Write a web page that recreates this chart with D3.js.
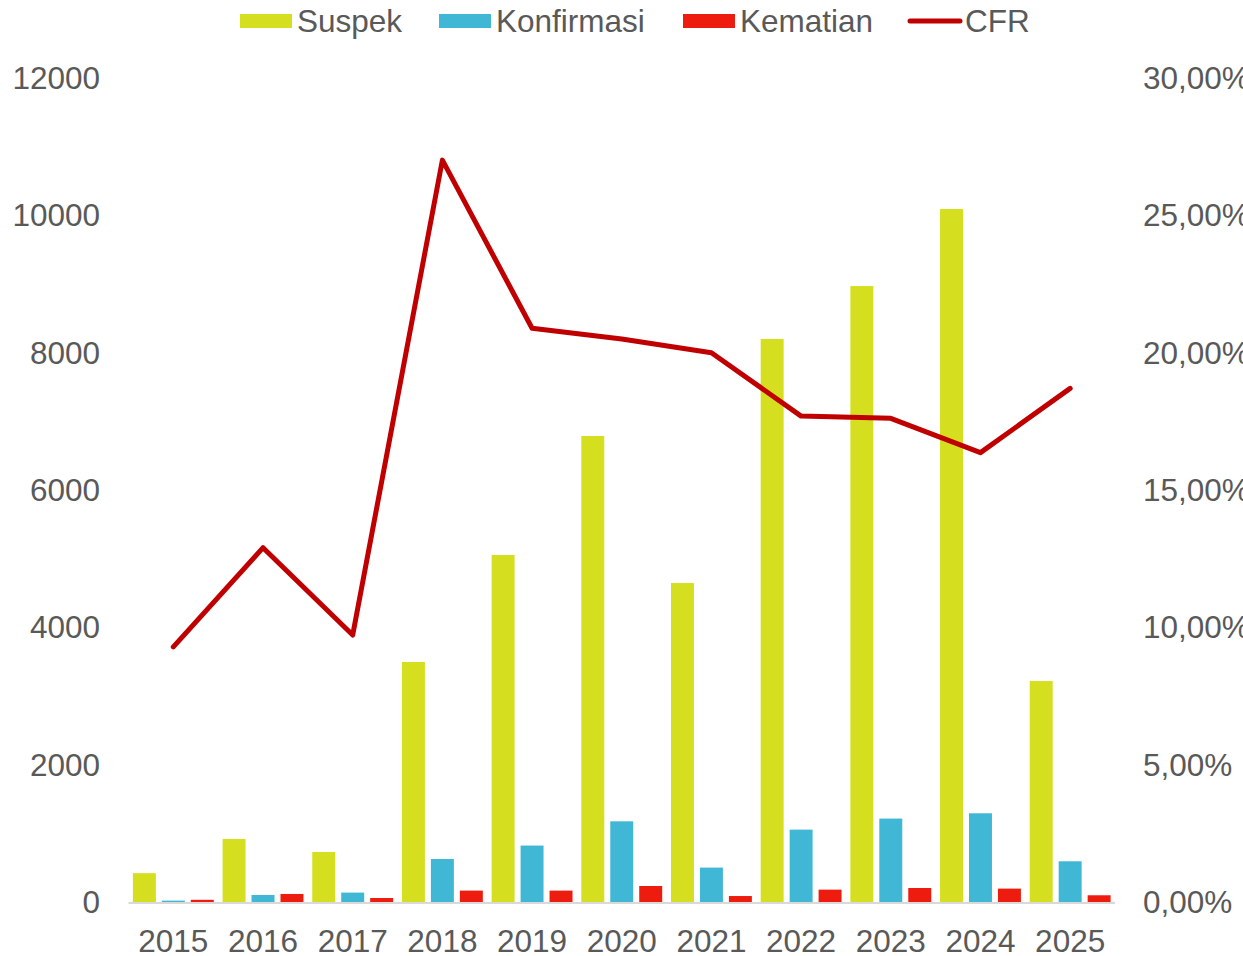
<!DOCTYPE html>
<html>
<head>
<meta charset="utf-8">
<script src="https://cdn.jsdelivr.net/npm/d3@7"></script>
<style>
  body { margin: 0; background: #fff; }
  text { font-family: "Liberation Sans", Arial, sans-serif; fill: #595959; }
</style>
</head>
<body>
<svg width="1243" height="956"></svg>
<script>
var years = ["2015","2016","2017","2018","2019","2020","2021","2022","2023","2024","2025"];
var suspek     = [420, 917, 728, 3495, 5053, 6786, 4645, 8199, 8970, 10092, 3218];
var konfirmasi = [20, 102, 137, 626, 822, 1175, 501, 1054, 1215, 1292, 593];
var kematian   = [32, 117, 58, 166, 166, 233, 87, 180, 204, 195, 98];
var cfr        = [9.29, 12.90, 9.72, 27.01, 20.89, 20.50, 20.00, 17.69, 17.61, 16.36, 18.70];

var leftTicks  = [0, 2000, 4000, 6000, 8000, 10000, 12000];
var rightTicks = [0, 5, 10, 15, 20, 25, 30];

var seriesNames  = ["Suspek", "Konfirmasi", "Kematian"];
var seriesColors = ["#d5df1f", "#41b7d6", "#ee1c0f"];
var cfrColor = "#c00000";

var svg = d3.select("svg"),
    width = +svg.attr("width"),
    height = +svg.attr("height");

// plot area edges (note: "top" is reserved on window, so use other names)
var plotLeft = 128.5, plotRight = 1115, plotTop = 78, plotBottom = 902;
var fontSize = "31.5px";

var x0 = d3.scaleBand().domain(years).range([plotLeft, plotRight]).padding(0);
var x1 = d3.scaleBand().domain(seriesNames)
    .range([4.4, x0.bandwidth() - 4.4])
    .paddingInner(0.207).paddingOuter(0);
var y = d3.scaleLinear().domain([0, 12000]).range([plotBottom, plotTop]);
var y2 = d3.scaleLinear().domain([0, 30]).range([plotBottom, plotTop]);

var rows = years.map(function(yr, i) {
    return { year: yr, values: [suspek[i], konfirmasi[i], kematian[i]] };
});

// bars
var groups = svg.append("g")
    .selectAll("g")
    .data(rows)
    .enter().append("g")
    .attr("transform", function(d) { return "translate(" + x0(d.year) + ",0)"; });

groups.selectAll("rect")
    .data(function(d) {
        return d.values.map(function(v, j) { return { key: seriesNames[j], value: v, color: seriesColors[j] }; });
    })
    .enter().append("rect")
    .attr("x", function(d) { return x1(d.key); })
    .attr("width", x1.bandwidth())
    .attr("y", function(d) { return y(d.value); })
    .attr("height", function(d) { return plotBottom - y(d.value); })
    .attr("fill", function(d) { return d.color; });

// baseline
svg.append("line")
    .attr("x1", plotLeft).attr("x2", plotRight)
    .attr("y1", plotBottom + 1).attr("y2", plotBottom + 1)
    .attr("stroke", "#d9d9d9").attr("stroke-width", 2);

// CFR line
var line = d3.line()
    .x(function(d, i) { return x0(years[i]) + x0.bandwidth() / 2; })
    .y(function(d) { return y2(d); });

svg.append("path")
    .datum(cfr)
    .attr("d", line)
    .attr("fill", "none")
    .attr("stroke", cfrColor)
    .attr("stroke-width", 5)
    .attr("stroke-linejoin", "round")
    .attr("stroke-linecap", "round");

// left axis labels
svg.append("g").selectAll("text")
    .data(leftTicks)
    .enter().append("text")
    .attr("x", 100)
    .attr("y", function(d) { return y(d); })
    .attr("dy", "0.35em")
    .attr("text-anchor", "end")
    .style("font-size", fontSize)
    .text(function(d) { return d; });

// right axis labels (cut by the right edge, as in the original)
svg.append("g").selectAll("text")
    .data(rightTicks)
    .enter().append("text")
    .attr("x", 1143)
    .attr("y", function(d) { return y2(d); })
    .attr("dy", "0.35em")
    .attr("text-anchor", "start")
    .style("font-size", fontSize)
    .text(function(d) { return d.toFixed(2).replace(".", ",") + "%"; });

// x labels
svg.append("g").selectAll("text")
    .data(years)
    .enter().append("text")
    .attr("x", function(d) { return x0(d) + x0.bandwidth() / 2; })
    .attr("y", 941)
    .attr("dy", "0.35em")
    .attr("text-anchor", "middle")
    .style("font-size", fontSize)
    .text(function(d) { return d; });

// legend
var legendItems = [
    { name: "Suspek", color: seriesColors[0], x: 240, type: "rect" },
    { name: "Konfirmasi", color: seriesColors[1], x: 439, type: "rect" },
    { name: "Kematian", color: seriesColors[2], x: 683, type: "rect" },
    { name: "CFR", color: cfrColor, x: 908, type: "line" }
];

var legend = svg.append("g").selectAll("g")
    .data(legendItems)
    .enter().append("g")
    .attr("transform", function(d) { return "translate(" + d.x + ",21)"; });

legend.filter(function(d) { return d.type == "rect"; })
    .append("rect")
    .attr("x", 0).attr("y", -7)
    .attr("width", 52).attr("height", 14)
    .attr("fill", function(d) { return d.color; });

legend.filter(function(d) { return d.type == "line"; })
    .append("line")
    .attr("x1", 2).attr("x2", 52)
    .attr("y1", 0).attr("y2", 0)
    .attr("stroke", function(d) { return d.color; })
    .attr("stroke-width", 5)
    .attr("stroke-linecap", "round");

legend.append("text")
    .attr("x", 57)
    .attr("y", 0)
    .attr("dy", "0.35em")
    .style("font-size", fontSize)
    .text(function(d) { return d.name; });
</script>
</body>
</html>
